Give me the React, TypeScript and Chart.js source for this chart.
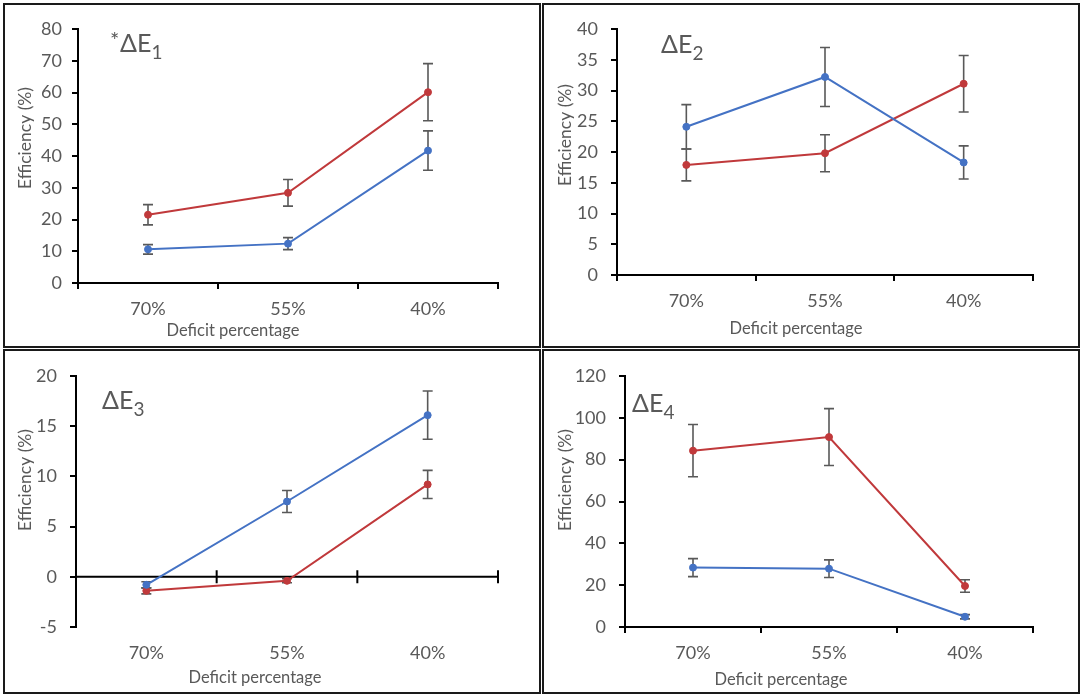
import React, { useEffect, useRef } from "react";
import { Chart, registerables } from "chart.js";

Chart.register(...registerables);

// ---------- data ----------
const categories = ["70%", "55%", "40%"];

const e1Blue = [10.6, 12.4, 41.7];
const e1BlueErr = [1.5, 1.9, 6.2];
const e1Red = [21.5, 28.4, 60.1];
const e1RedErr = [3.2, 4.2, 9.0];

const e2Blue = [24.1, 32.2, 18.3];
const e2BlueErr = [3.6, 4.8, 2.7];
const e2Red = [17.9, 19.8, 31.1];
const e2RedErr = [2.6, 3.0, 4.6];

const e3Blue = [-0.8, 7.5, 16.1];
const e3BlueErr = [0.3, 1.1, 2.4];
const e3Red = [-1.4, -0.4, 9.2];
const e3RedErr = [0.3, 0.2, 1.4];

const e4Blue = [28.4, 27.9, 4.9];
const e4BlueErr = [4.3, 4.2, 1.0];
const e4Red = [84.3, 90.8, 19.6];
const e4RedErr = [12.5, 13.6, 3.0];

const yTicks1 = { min: 0, max: 80, step: 10 };
const yTicks2 = { min: 0, max: 40, step: 5 };
const yTicks3 = { min: -5, max: 20, step: 5 };
const yTicks4 = { min: 0, max: 120, step: 20 };

const xTitle = "Deficit percentage";
const yTitle = "Efficiency (%)";

// ---------- styles ----------
const BLUE = "#4472C4";
const RED = "#C0393B";
const GREY = "#595959";
const ERR = "#595959";
const FONT = "Lato, 'Noto Sans', 'DejaVu Sans', sans-serif";
const CW = 534;
const CH = 341;

type Spec = {
  left: number;
  top: number;
  y: { min: number; max: number; step: number };
  blue: number[];
  blueErr: number[];
  red: number[];
  redErr: number[];
  area: { l: number; r: number; t: number; b: number };
  tickPad: number;
  zeroAxis: boolean;
  sub: string;
  star: boolean;
  lab: { x: number; y: number };
  xt: { x: number; y: number };
  yt: { x: number; y: number };
};

const specs: Spec[] = [
  {
    left: 3, top: 3, y: yTicks1, blue: e1Blue, blueErr: e1BlueErr, red: e1Red, redErr: e1RedErr,
    area: { l: 73, r: 493, t: 24, b: 278 }, tickPad: 10, zeroAxis: false,
    sub: "1", star: true, lab: { x: 115, y: 47 }, xt: { x: 228, y: 326 }, yt: { x: 20, y: 133 },
  },
  {
    left: 542, top: 3, y: yTicks2, blue: e2Blue, blueErr: e2BlueErr, red: e2Red, redErr: e2RedErr,
    area: { l: 73, r: 489, t: 24, b: 270 }, tickPad: 13, zeroAxis: false,
    sub: "2", star: false, lab: { x: 117, y: 48 }, xt: { x: 252, y: 324 }, yt: { x: 21, y: 130 },
  },
  {
    left: 3, top: 349, y: yTicks3, blue: e3Blue, blueErr: e3BlueErr, red: e3Red, redErr: e3RedErr,
    area: { l: 71, r: 493, t: 25, b: 276 }, tickPad: 13, zeroAxis: true,
    sub: "3", star: false, lab: { x: 97, y: 58 }, xt: { x: 250, y: 327 }, yt: { x: 20, y: 129 },
  },
  {
    left: 542, top: 349, y: yTicks4, blue: e4Blue, blueErr: e4BlueErr, red: e4Red, redErr: e4RedErr,
    area: { l: 81, r: 489, t: 25, b: 276 }, tickPad: 13, zeroAxis: false,
    sub: "4", star: false, lab: { x: 88, y: 61 }, xt: { x: 237, y: 329 }, yt: { x: 21, y: 129 },
  },
];

function Panel({ spec }: { spec: Spec }) {
  const ref = useRef<HTMLCanvasElement | null>(null);

  useEffect(() => {
    const canvas = ref.current;
    if (!canvas) return;

    const errs = [spec.blueErr, spec.redErr];

    const zeroAxisPlugin = {
      id: "zeroAxis",
      beforeDatasetsDraw(chart: any) {
        if (!spec.zeroAxis) return;
        const { ctx, chartArea, scales } = chart;
        const y0 = scales.y.getPixelForValue(0);
        ctx.save();
        ctx.strokeStyle = "#000";
        ctx.lineWidth = 2;
        ctx.beginPath();
        ctx.moveTo(chartArea.left, y0);
        ctx.lineTo(chartArea.right, y0);
        for (let i = 0; i <= categories.length; i++) {
          const x = scales.x.getPixelForValue(i - 0.5);
          ctx.moveTo(x, y0 - 6.5);
          ctx.lineTo(x, y0 + 6.5);
        }
        ctx.stroke();
        ctx.restore();
      },
    };

    const errorBarPlugin = {
      id: "errorBars",
      beforeDatasetsDraw(chart: any) {
        const { ctx, scales } = chart;
        ctx.save();
        ctx.strokeStyle = ERR;
        ctx.lineWidth = 1.6;
        chart.data.datasets.forEach((ds: any, di: number) => {
          const meta = chart.getDatasetMeta(di);
          ds.data.forEach((v: number, i: number) => {
            const e = errs[di][i];
            const x = meta.data[i].x;
            const yt = scales.y.getPixelForValue(v + e);
            const yb = scales.y.getPixelForValue(v - e);
            ctx.beginPath();
            ctx.moveTo(x, yt);
            ctx.lineTo(x, yb);
            ctx.moveTo(x - 5, yt);
            ctx.lineTo(x + 5, yt);
            ctx.moveTo(x - 5, yb);
            ctx.lineTo(x + 5, yb);
            ctx.stroke();
          });
        });
        ctx.restore();
      },
    };

    const textPlugin = {
      id: "texts",
      afterDraw(chart: any) {
        const { ctx } = chart;
        ctx.save();
        ctx.fillStyle = GREY;
        ctx.textAlign = "center";
        ctx.textBaseline = "middle";
        // x title
        ctx.font = `16.5px ${FONT}`;
        ctx.fillText(xTitle, spec.xt.x, spec.xt.y);
        // y title
        ctx.font = `17.5px ${FONT}`;
        ctx.save();
        ctx.translate(spec.yt.x, spec.yt.y);
        ctx.rotate(-Math.PI / 2);
        ctx.fillText(yTitle, 0, 0);
        ctx.restore();
        // panel label
        ctx.textAlign = "left";
        ctx.textBaseline = "alphabetic";
        let x = spec.lab.x;
        const y = spec.lab.y;
        if (spec.star) {
          ctx.font = `22px ${FONT}`;
          ctx.fillText("*", x - 10, y - 4);
        }
        ctx.font = `25px ${FONT}`;
        const main = "\u0394E";
        ctx.fillText(main, x, y);
        x += ctx.measureText(main).width;
        ctx.font = `19px ${FONT}`;
        ctx.fillText(spec.sub, x, y + 7);
        ctx.restore();
      },
    };

    const chart = new Chart(canvas, {
      type: "line",
      data: {
        labels: categories,
        datasets: [
          {
            data: spec.blue,
            borderColor: BLUE,
            backgroundColor: BLUE,
            pointBackgroundColor: BLUE,
            pointBorderColor: BLUE,
            pointRadius: 3.5,
            pointBorderWidth: 1,
            borderWidth: 2,
            tension: 0,
          },
          {
            data: spec.red,
            borderColor: RED,
            backgroundColor: RED,
            pointBackgroundColor: RED,
            pointBorderColor: RED,
            pointRadius: 3.5,
            pointBorderWidth: 1,
            borderWidth: 2,
            tension: 0,
          },
        ],
      },
      options: {
        animation: false,
        responsive: false,
        maintainAspectRatio: false,
        layout: {
          padding: { top: spec.area.t, right: CW - spec.area.r, left: 0, bottom: 0 },
        },
        plugins: {
          legend: { display: false },
          tooltip: { enabled: false },
          title: { display: false },
        },
        scales: {
          x: {
            type: "category",
            offset: true,
            grid: {
              offset: true,
              drawOnChartArea: false,
              drawTicks: true,
              tickLength: 6,
              color: spec.zeroAxis ? "rgba(0,0,0,0)" : "#000",
              lineWidth: 2,
            },
            border: { display: !spec.zeroAxis, color: "#000", width: 2 },
            ticks: {
              color: GREY,
              font: { family: FONT, size: 18 },
              padding: 9,
              maxRotation: 0,
              autoSkip: false,
            },
            afterFit: (s: any) => {
              s.height = CH - spec.area.b;
            },
          },
          y: {
            type: "linear",
            min: spec.y.min,
            max: spec.y.max,
            ticks: {
              stepSize: spec.y.step,
              color: GREY,
              font: { family: FONT, size: 18 },
              padding: spec.tickPad,
            },
            grid: {
              drawOnChartArea: false,
              drawTicks: true,
              tickLength: 6,
              color: "#000",
              lineWidth: 2,
            },
            border: { display: true, color: "#000", width: 2 },
            afterFit: (s: any) => {
              s.width = spec.area.l;
            },
          },
        },
      } as any,
      plugins: [zeroAxisPlugin, errorBarPlugin, textPlugin],
    });

    return () => {
      chart.destroy();
    };
  }, [spec]);

  return (
    <div
      style={{
        position: "absolute",
        left: spec.left,
        top: spec.top,
        width: CW,
        height: CH,
        border: "2px solid #1a1a1a",
        background: "#fff",
      }}
    >
      <canvas ref={ref} width={CW} height={CH} style={{ display: "block", width: CW, height: CH }} />
    </div>
  );
}

export default function App() {
  return (
    <div
      style={{
        position: "fixed",
        left: 0,
        top: 0,
        width: 1084,
        height: 699,
        background: "#fff",
        overflow: "hidden",
      }}
    >
      {specs.map((s, i) => (
        <Panel key={i} spec={s} />
      ))}
    </div>
  );
}
